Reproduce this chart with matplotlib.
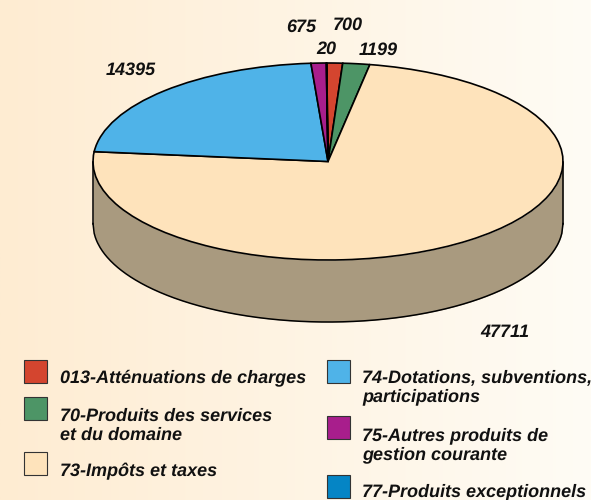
import numpy as np
import matplotlib
matplotlib.use('Agg')
import matplotlib.pyplot as plt
from matplotlib.patches import Rectangle

plt.rcParams['font.family'] = ['Liberation Sans', 'DejaVu Sans']
plt.rcParams['text.hinting'] = 'no_hinting'
plt.rcParams['text.hinting_factor'] = 1

W, H = 591, 500

# clockwise from the top, starting with the small red slice
values = [700, 1199, 47711, 14395, 675, 20]
colors = ['#d4452f', '#4d9566', '#fee3bb', '#4fb3e8', '#a81e8c', '#0585c5']
value_labels = ['700', '1199', '47711', '14395', '675', '20']
label_pos = [(348, 25), (378, 50), (505, 332), (131, 70), (301, 27), (326, 49)]

legend_colors = ['#d4452f', '#4d9566', '#fee3bb', '#4fb3e8', '#a81e8c', '#0585c5']
legend_labels = [
    '013-Atténuations de charges',
    '70-Produits des services\net du domaine',
    '73-Impôts et taxes',
    '74-Dotations, subventions,\nparticipations',
    '75-Autres produits de\ngestion courante',
    '77-Produits exceptionnels',
]
legend_box = [(24, 360), (24, 397), (24, 452), (327, 360), (327, 416), (327, 475)]
legend_text = [(60, 378), (60, 426), (60, 471), (362, 387), (362, 445), (362, 492)]

fig = plt.figure(figsize=(W / 100, H / 100), dpi=100)

# background, fading from peach to almost white
bg = fig.add_axes([0, 0, 1, 1])
bg.set_xlim(0, W)
bg.set_ylim(H, 0)
bg.axis('off')
left = np.array([254, 236, 210]) / 255
right = np.array([255, 252, 245]) / 255
t = np.linspace(0, 1, 256)[None, :, None]
bg.imshow(left + (right - left) * t, extent=(0, W, H, 0), aspect='auto', zorder=0)

# pie axes covers the bounding box of the top ellipse
x0, x1 = 93, 563
y0, y1 = 63, 260
ax = fig.add_axes([x0 / W, 1 - y1 / H, (x1 - x0) / W, (y1 - y0) / H])
ax.patch.set_alpha(0)

depth = 62 / ((y1 - y0) / 2)
xs = np.linspace(-1, 1, 400)
low = -np.sqrt(1 - xs ** 2)
ax.fill_between(xs, low, low - depth, color='#a99a7f', lw=0, clip_on=False)
ax.plot(xs, low - depth, color='black', lw=1.1, clip_on=False)
ax.plot([-1, -1], [0, -depth], color='black', lw=1.1, clip_on=False)
ax.plot([1, 1], [0, -depth], color='black', lw=1.1, clip_on=False)

wedges, _ = ax.pie(values, colors=colors, startangle=90.3, counterclock=False, radius=1,
                   wedgeprops={'edgecolor': 'black', 'linewidth': 1.2, 'clip_on': False})
ax.set_aspect('auto')
ax.set_xlim(-1, 1)
ax.set_ylim(-1, 1)

for text, (x, y) in zip(value_labels, label_pos):
    bg.text(x, y, text, fontsize=13, fontweight='bold', fontstyle='italic',
            ha='center', va='center', color='#111111')

for col, (x, y) in zip(legend_colors, legend_box):
    bg.add_patch(Rectangle((x, y), 23, 23, facecolor=col, edgecolor='#333333', lw=0.8))

for text, (x, y) in zip(legend_labels, legend_text):
    bg.text(x, y, text, fontsize=12.8, fontweight='bold', fontstyle='italic', ha='left',
            va='center', color='#111111', linespacing=1.15)

fig.savefig('out.png', dpi=100)
